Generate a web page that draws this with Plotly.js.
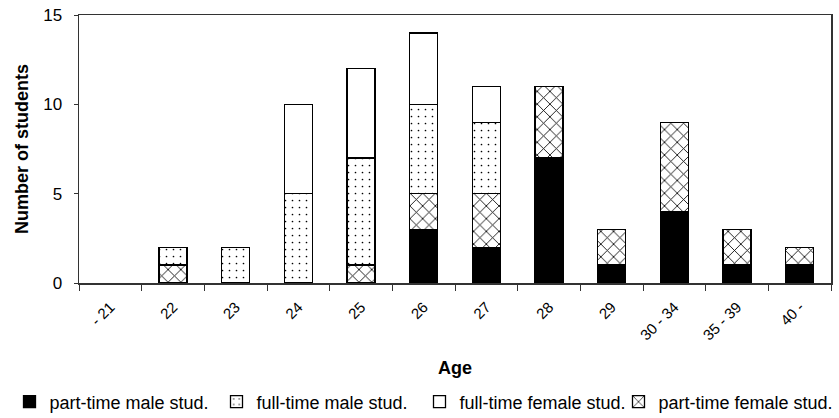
<!DOCTYPE html>
<html>
<head>
<meta charset="utf-8">
<script src="https://cdn.plot.ly/plotly-3.0.1.min.js"></script>
<style>html,body{margin:0;padding:0;background:#fff;}#chart{width:839px;height:418px;}</style>
</head>
<body>
<div id="chart"></div>
<script>
const ageGroups = ['- 21', '22', '23', '24', '25', '26', '27', '28', '29', '30 - 34', '35 - 39', '40 -'];
const partTimeMale   = [0, 0, 0, 0, 0, 3, 2, 7, 1, 4, 1, 1];
const partTimeFemale = [0, 1, 0, 0, 1, 2, 3, 4, 2, 5, 2, 1];
const fullTimeMale   = [0, 1, 2, 5, 6, 5, 4, 0, 0, 0, 0, 0];
const fullTimeFemale = [0, 0, 0, 5, 5, 4, 2, 0, 0, 0, 0, 0];
const seriesNames = ['part-time male stud.', 'part-time female stud.', 'full-time male stud.', 'full-time female stud.'];

const FONT = 'Liberation Sans, Arial, sans-serif';
const edge = {color: '#000', width: 1.3};
const noZero = arr => arr.map(v => (v === 0 ? null : v));

const traces = [
  {name: seriesNames[0], y: noZero(partTimeMale), legend: 'legend',
   marker: {color: '#000', line: edge}},
  {name: seriesNames[1], y: noZero(partTimeFemale), legend: 'legend4',
   marker: {color: '#fff', line: edge,
            pattern: {shape: 'x', fgcolor: '#000', bgcolor: '#fff', size: 9, solidity: 0.18}}},
  {name: seriesNames[2], y: noZero(fullTimeMale), legend: 'legend2',
   marker: {color: '#fff', line: edge,
            pattern: {shape: '.', fgcolor: '#000', bgcolor: '#fff', size: 7, solidity: 0.045}}},
  {name: seriesNames[3], y: noZero(fullTimeFemale), legend: 'legend3',
   marker: {color: '#fff', line: edge}}
].map(t => Object.assign({type: 'bar', x: ageGroups, hoverinfo: 'y+name', showlegend: true}, t));

function leg(xpx) {
  return {orientation: 'h', xref: 'container', yref: 'container', x: xpx / 839, y: 16 / 418,
          xanchor: 'left', yanchor: 'middle', bgcolor: 'rgba(0,0,0,0)',
          font: {family: FONT, size: 18, color: '#000'}, itemwidth: 30};
}

const layout = {
  width: 839, height: 418,
  margin: {l: 79, r: 8, t: 15, b: 135},
  paper_bgcolor: '#fff', plot_bgcolor: '#fff',
  barmode: 'stack', bargap: 0.55,
  font: {family: FONT, size: 16, color: '#000'},
  showlegend: true,
  legend: leg(9.5), legend2: leg(216.5), legend3: leg(419.5), legend4: leg(618.5),
  xaxis: {
    type: 'category', tickson: 'boundaries', ticks: 'outside', ticklen: 6, tickcolor: '#333',
    tickangle: -45, showline: true, mirror: true, linecolor: '#333', linewidth: 1.5,
    showgrid: false, zeroline: false, ticklabelstandoff: 8,
    tickfont: {family: FONT, size: 15}
  },
  yaxis: {
    range: [0, 15], dtick: 5, ticks: 'outside', ticklen: 4, tickcolor: '#333',
    showline: true, mirror: true, linecolor: '#333', linewidth: 1.5,
    showgrid: false, zeroline: false, ticklabelstandoff: 8,
    tickfont: {family: FONT, size: 17},
    title: {text: '<b>Number of students</b>', font: {family: FONT, size: 18}, standoff: 10}
  },
  annotations: [{
    text: '<b>Age</b>', xref: 'paper', yref: 'paper', x: 0.5, y: (283 - 368) / 268,
    xanchor: 'center', yanchor: 'middle', showarrow: false,
    font: {family: FONT, size: 18, color: '#000'}
  }]
};

Plotly.newPlot('chart', traces, layout, {displayModeBar: false, staticPlot: true});
</script>
</body>
</html>
